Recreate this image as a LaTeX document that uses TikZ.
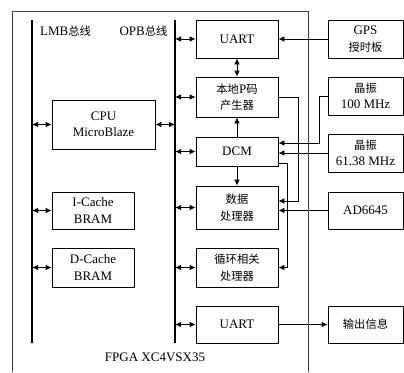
\documentclass[tikz,border=0pt]{standalone}
\usepackage{fontspec}
\setmainfont{Liberation Serif}
\newfontfamily\cjk[Scale=0.87]{Noto Sans CJK SC}
\usetikzlibrary{arrows.meta}

\tikzset{
    blk/.style={draw, thick, inner sep=0pt, align=center,
        font=\fontsize{13}{16.5}\selectfont},
    bus/.style={line width=1.4pt},
    lnk/.style={thick, >={Latex[length=6pt,width=5.5pt]}},
}

\begin{document}
\begin{tikzpicture}[x=1pt, y=-1pt]
    \useasboundingbox (0,0) rectangle (404,372);
    % FPGA frame and the two buses
        \draw[line width=0.9pt, black!75] (12,372) -- (12,11) -- (308,11) -- (308,372);
        \coordinate (lmb) at (32,20);
        \coordinate (lmbE) at (32,343);
        \coordinate (opb) at (175,20);
        \coordinate (opbE) at (175,343);
        \draw[bus] (lmb) -- (lmbE);
        \draw[bus] (opb) -- (opbE);
        \node[font=\fontsize{13}{16}\selectfont] (lmbL) at (65.5,31) {LMB{\cjk 总线}};
        \node[font=\fontsize{13}{16}\selectfont] (opbL) at (143.5,31) {OPB{\cjk 总线}};
        \node[font=\fontsize{13}{16}\selectfont] (fpga) at (155,357) {FPGA XC4VSX35};
    % Below nodes are the blocks on the LMB side.
        \node[blk, minimum width=103pt, minimum height=49pt] (cpu) at (103.5,124.5) {CPU\\MicroBlaze};
        \node[blk, minimum width=82pt, minimum height=37pt] (icache) at (93,210.5) {I-Cache\\BRAM};
        \node[blk, minimum width=82pt, minimum height=39pt] (dcache) at (93,267.5) {D-Cache\\BRAM};
    % Blocks on the OPB side.
        \node[blk, minimum width=82pt, minimum height=38pt] (uartA) at (237,39) {UART};
        \node[blk, minimum width=82pt, minimum height=40pt] (pcode) at (237,97) {{\cjk 本地}P{\cjk 码}\\{\cjk 产生器}};
        \node[blk, minimum width=82pt, minimum height=29pt] (dcm) at (237,151.5) {DCM};
        \node[blk, minimum width=82pt, minimum height=43pt] (dproc) at (237,207.5) {{\cjk 数据}\\{\cjk 处理器}};
        \node[blk, minimum width=82pt, minimum height=39pt] (corr) at (237,267.5) {{\cjk 循环相关}\\{\cjk 处理器}};
        \node[blk, minimum width=82pt, minimum height=37pt] (uartB) at (237,324.5) {UART};
    % Outside the FPGA.
        \node[blk, minimum width=75pt, minimum height=38pt] (gps) at (365.5,39) {GPS\\{\cjk 授时板}};
        \node[blk, minimum width=75pt, minimum height=38pt] (xtalA) at (365.5,96) {{\cjk 晶振}\\100 MHz};
        \node[blk, minimum width=75pt, minimum height=38pt] (xtalB) at (365.5,153) {{\cjk 晶振}\\61.38 MHz};
        \node[blk, minimum width=75pt, minimum height=37pt] (adc) at (365.5,210.5) {AD6645};
        \node[blk, minimum width=75pt, minimum height=37pt] (out) at (365.5,324.5) {{\cjk 输出信息}};
    % Bus taps.
        \foreach \b in {cpu, icache, dcache}
            \draw[lnk, <->] (\b.west -| lmb) -- (\b.west);
        \draw[lnk, <->] (cpu.east) -- (cpu.east -| opb);
        \foreach \b in {uartA, pcode, dcm, dproc, corr, uartB}
            \draw[lnk, <->] (\b.west -| opb) -- (\b.west);
    % Signal paths.
        \draw[lnk, <->] (uartA.south) -- (pcode.north);
        \draw[lnk, ->] (dcm.north) -- (pcode.south);
        \draw[lnk, ->] (dcm.south) -- (dproc.north);
        \draw[lnk, ->] (gps.west) -- (uartA.east);
        \draw[lnk, ->] (pcode.east) -| (298,201) -- (dproc.east |- 0,201);
        \draw[lnk, ->] (dcm.east |- 0,163) -| (287,267.5) -- (corr.east);
        \draw[lnk, ->] (xtalA.west) -| (319,143) -- (dcm.east |- 0,143);
        \draw[lnk, ->] (xtalB.west) -- (xtalB.west -| dcm.east);
        \draw[lnk, ->] (adc.west) -- (adc.west -| dproc.east);
        \draw[lnk, ->] (uartB.east) -- (out.west);
\end{tikzpicture}
\end{document}
